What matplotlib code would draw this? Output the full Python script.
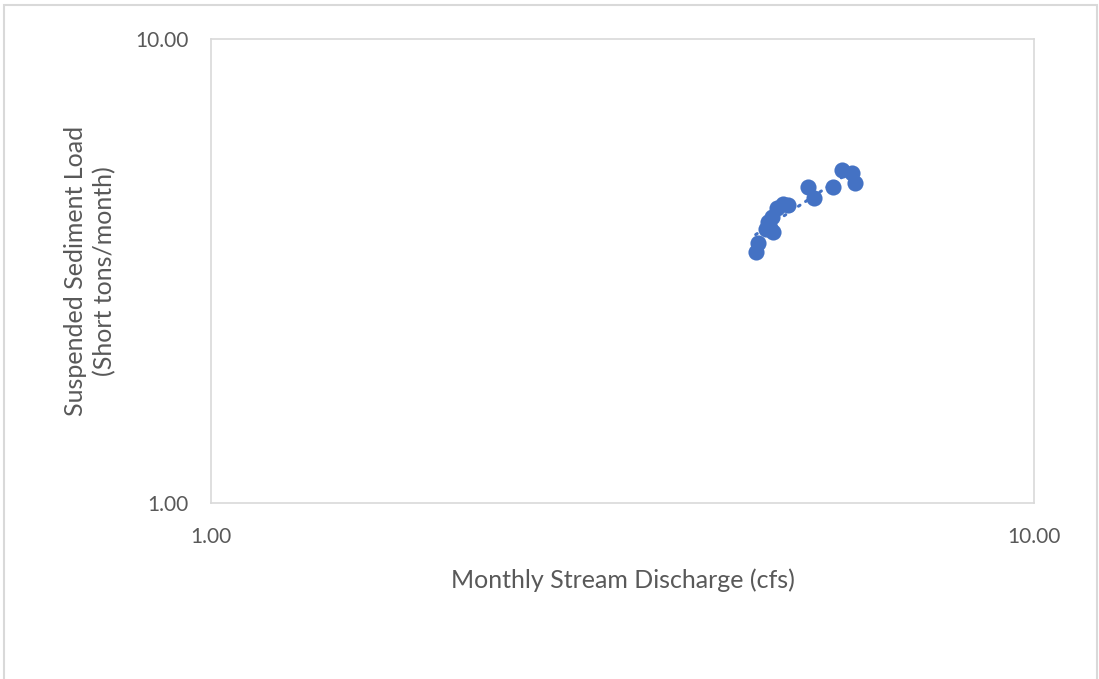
import numpy as np
import matplotlib
matplotlib.use("Agg")
import matplotlib.pyplot as plt
from matplotlib.patches import Rectangle
from matplotlib.ticker import FixedLocator, FormatStrFormatter, NullLocator

# Monthly discharge (cfs) and suspended sediment load (short tons/month)
discharge = [4.59, 4.62, 4.73, 4.75, 4.78, 4.82, 4.81, 4.87, 4.96, 5.02,
             5.31, 5.40, 5.70, 5.85, 6.01, 6.06]
sediment = [3.47, 3.63, 3.90, 4.03, 3.91, 3.84, 4.13, 4.32, 4.41, 4.39,
            4.80, 4.54, 4.80, 5.22, 5.14, 4.89]

x_ticks = [1.0, 10.0]
y_ticks = [1.0, 10.0]

blue = "#4472C4"
grey_text = "#595959"
grey_line = "#D9D9D9"

plt.rcParams["font.family"] = ["Lato", "DejaVu Sans"]

fig = plt.figure(figsize=(10.99, 6.79), dpi=100)
ax = fig.add_axes([0.192, 0.2592, 0.7489, 0.6834])

ax.set_xscale("log")
ax.set_yscale("log")
ax.set_xlim(1, 10)
ax.set_ylim(1, 10)

ax.scatter(discharge, sediment, s=135, color=blue, zorder=3, linewidths=0)

# Power-law trendline fitted in log space
lx, ly = np.log10(discharge), np.log10(sediment)
b, a = np.polyfit(lx, ly, 1)
xs = np.linspace(min(discharge), max(discharge), 50)
ax.plot(xs, 10 ** a * xs ** b, color=blue, lw=2.2, ls=(0, (0.6, 2.2)),
        dash_capstyle="round", zorder=2)

ax.xaxis.set_major_locator(FixedLocator(x_ticks))
ax.yaxis.set_major_locator(FixedLocator(y_ticks))
ax.xaxis.set_minor_locator(NullLocator())
ax.yaxis.set_minor_locator(NullLocator())
ax.xaxis.set_major_formatter(FormatStrFormatter("%.2f"))
ax.yaxis.set_major_formatter(FormatStrFormatter("%.2f"))
ax.tick_params(length=0, labelsize=15, colors=grey_text)
ax.tick_params(axis="x", pad=17)
ax.tick_params(axis="y", pad=16)

for s in ax.spines.values():
    s.set_color(grey_line)
    s.set_linewidth(1.2)

ax.set_xlabel("Monthly Stream Discharge (cfs)", fontsize=18, color=grey_text, labelpad=16)
ax.set_ylabel("Suspended Sediment Load\n(Short tons/month)", fontsize=18,
              color=grey_text, labelpad=14, linespacing=1.3)

# Chart border
fig.patches.append(Rectangle((4 / 1099, -0.01), 1093 / 1099, 1 - 5 / 679 + 0.01,
                             transform=fig.transFigure, fill=False,
                             edgecolor=grey_line, linewidth=1.5))

fig.savefig("out.png", dpi=100)
